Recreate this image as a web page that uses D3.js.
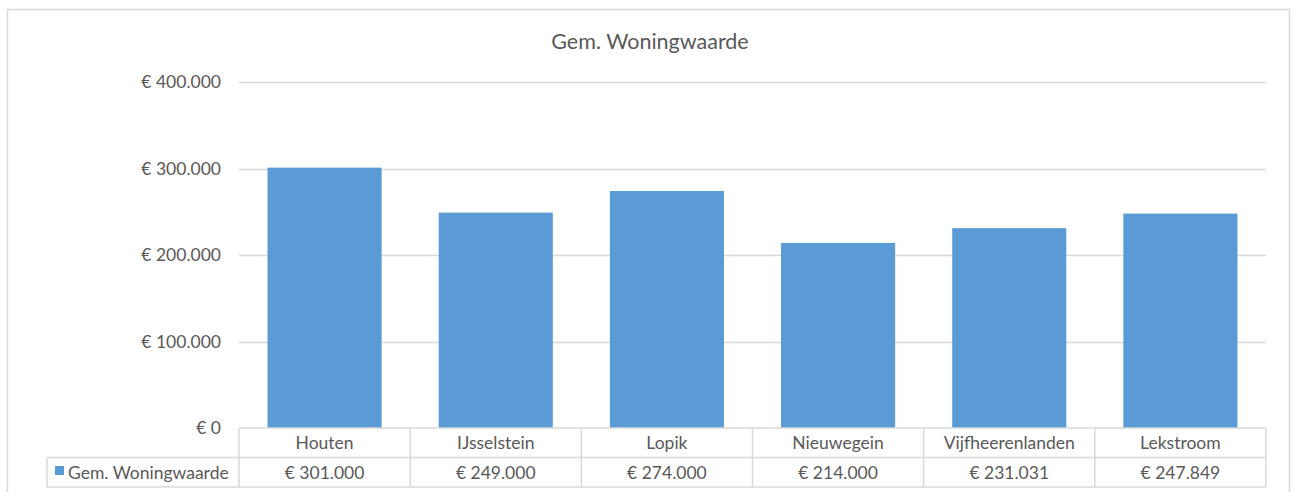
<!DOCTYPE html>
<html lang="nl">
<head>
<meta charset="UTF-8">
<title>Gem. Woningwaarde</title>
<script src="https://d3js.org/d3.v7.min.js"></script>
<style>
  body { margin: 0; background: #fff; font-family: Lato, "Open Sans", sans-serif; }
  svg { display: block; }
</style>
</head>
<body>
<svg width="1292" height="492"></svg>
<script>
// data
const categories = ["Houten", "IJsselstein", "Lopik", "Nieuwegein", "Vijfheerenlanden", "Lekstroom"];
const values = [301000, 249000, 274000, 214000, 231031, 247849];
const valueLabels = ["€ 301.000", "€ 249.000", "€ 274.000", "€ 214.000", "€ 231.031", "€ 247.849"];
const yTicks = [0, 100000, 200000, 300000, 400000];
const seriesName = "Gem. Woningwaarde";

const svg = d3.select("svg");
const textColor = "#595959", lineColor = "#d9d9d9", barColor = "#5b9bd5";
const fs = 17.5;

// outer frame
svg.append("rect").attr("x", 7.5).attr("y", 9.5).attr("width", 1282).attr("height", 490)
  .attr("fill", "none").attr("stroke", lineColor).attr("stroke-width", 1.5);

svg.append("text").attr("x", 650).attr("y", 49).attr("text-anchor", "middle")
  .attr("font-size", 21.5).attr("fill", textColor).text(seriesName);

const plotL = 239, plotR = 1266, plotT = 82, plotB = 428;
const y = d3.scaleLinear().domain([0, 400000]).range([plotB, plotT]);
const x = d3.scaleBand().domain(categories).range([plotL, plotR]).paddingInner(1 / 3).paddingOuter(1 / 6);
const col = d3.scaleBand().domain(categories).range([plotL, plotR]);

const fmt = v => "€ " + d3.format(",")(v).replace(/,/g, ".");

// gridlines
svg.append("g").selectAll("line").data(yTicks.slice(1)).join("line")
  .attr("x1", plotL).attr("x2", plotR)
  .attr("y1", d => Math.round(y(d)) + 0.5).attr("y2", d => Math.round(y(d)) + 0.5)
  .attr("stroke", lineColor).attr("stroke-width", 1.5);

// y axis labels
svg.append("g").selectAll("text").data(yTicks).join("text")
  .attr("x", 221).attr("y", d => y(d) + 6).attr("text-anchor", "end")
  .attr("font-size", fs).attr("fill", textColor).text(fmt);

// bars
svg.append("g").selectAll("rect").data(values).join("rect")
  .attr("x", (d, i) => x(categories[i])).attr("width", x.bandwidth())
  .attr("y", d => y(d)).attr("height", d => plotB - y(d))
  .attr("fill", barColor);

// data table
const rowTop = 428, rowMid = 457.5, rowBot = 487, legLeft = 47;
const tbl = svg.append("g").attr("stroke", lineColor).attr("stroke-width", 1.5);
tbl.append("line").attr("x1", plotL).attr("x2", plotR).attr("y1", rowTop).attr("y2", rowTop);
tbl.append("line").attr("x1", legLeft).attr("x2", plotR).attr("y1", rowMid).attr("y2", rowMid);
tbl.append("line").attr("x1", legLeft).attr("x2", plotR).attr("y1", rowBot).attr("y2", rowBot);
tbl.append("line").attr("x1", legLeft).attr("x2", legLeft).attr("y1", rowMid).attr("y2", rowBot);
tbl.selectAll("line.v").data(categories.concat(["end"])).join("line").attr("class", "v")
  .attr("x1", (d, i) => plotL + i * col.bandwidth()).attr("x2", (d, i) => plotL + i * col.bandwidth())
  .attr("y1", rowTop).attr("y2", rowBot);

svg.append("g").selectAll("text").data(categories).join("text")
  .attr("x", d => col(d) + col.bandwidth() / 2).attr("y", rowTop + 21)
  .attr("text-anchor", "middle").attr("font-size", fs).attr("fill", textColor).text(d => d);

svg.append("g").selectAll("text").data(valueLabels).join("text")
  .attr("x", (d, i) => col(categories[i]) + col.bandwidth() / 2).attr("y", rowMid + 21)
  .attr("text-anchor", "middle").attr("font-size", fs).attr("fill", textColor).text(d => d);

// legend key
svg.append("rect").attr("x", 55).attr("y", 466).attr("width", 9).attr("height", 9).attr("fill", barColor);
svg.append("text").attr("x", 68).attr("y", rowMid + 21).attr("font-size", fs)
  .attr("fill", textColor).text(seriesName);
</script>
</body>
</html>
